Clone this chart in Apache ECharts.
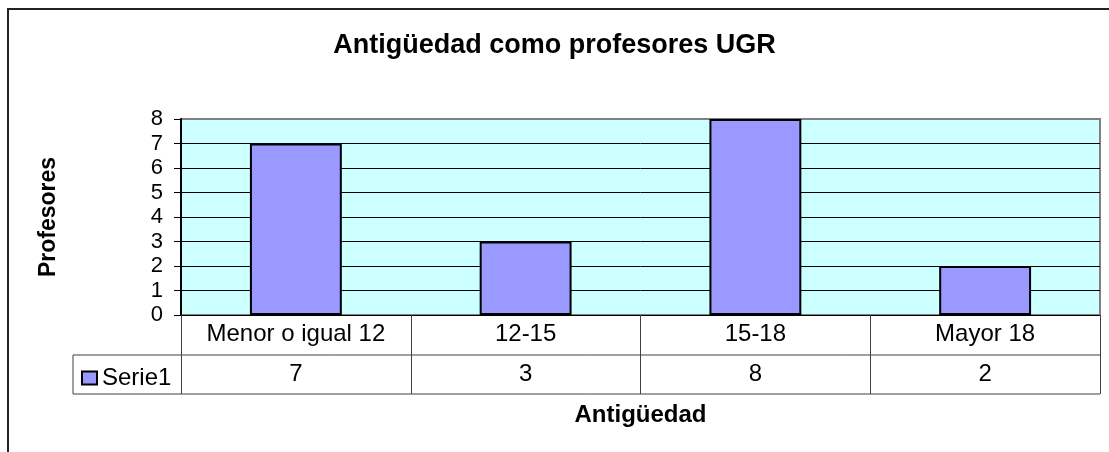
<!DOCTYPE html>
<html>
<head>
<meta charset="utf-8">
<script src="https://cdn.jsdelivr.net/npm/echarts@6/dist/echarts.min.js"></script>
<style>
  html, body { margin: 0; padding: 0; background: #fff; }
  #chart { width: 1109px; height: 452px; }
</style>
</head>
<body>
<div id="chart"></div>
<script>
const categories = ["Menor o igual 12", "12-15", "15-18", "Mayor 18"];
const serie1 = [7, 3, 8, 2];
const yTicks = [0, 1, 2, 3, 4, 5, 6, 7, 8];

const font = "Liberation Sans, Arial, sans-serif";
const chart = echarts.init(document.getElementById("chart"));

// split line colours: black inside, grey on the top border
const splitColors = yTicks.map((v, i) => (i === yTicks.length - 1 ? "#808080" : "#000"));

chart.setOption({
  animation: false,
  backgroundColor: "#fff",
  textStyle: { fontFamily: font },
  title: {
    text: "Antigüedad como profesores UGR",
    left: "center",
    top: 27,
    textStyle: { fontSize: 27, fontWeight: "bold", color: "#000", fontFamily: font }
  },
  legend: {
    data: ["Serie1"],
    left: 76,
    top: 361,
    itemWidth: 15,
    itemHeight: 13,
    itemGap: 6,
    icon: "rect",
    textStyle: { fontSize: 24, color: "#000", fontFamily: font }
  },
  grid: {
    left: 181,
    top: 119,
    right: 9,
    bottom: 137,
    show: true,
    backgroundColor: "#ccffff",
    borderColor: "#808080",
    borderWidth: 2
  },
  xAxis: [
    {
      type: "category",
      data: categories,
      position: "bottom",
      axisLine: { show: true, lineStyle: { color: "#000", width: 1 } },
      axisTick: { show: true, interval: 0, alignWithLabel: false, length: 79, lineStyle: { color: "#404040", width: 1 } },
      axisLabel: { interval: 0, fontSize: 24, color: "#000", margin: 7, fontFamily: font },
      name: "Antigüedad",
      nameLocation: "middle",
      nameGap: 88,
      nameTextStyle: { fontSize: 24, fontWeight: "bold", color: "#000", fontFamily: font }
    },
    {
      type: "category",
      data: serie1.map(String),
      position: "bottom",
      offset: 40,
      axisLine: { show: false },
      axisTick: { show: false },
      axisLabel: { interval: 0, fontSize: 24, color: "#000", margin: 7, fontFamily: font }
    }
  ],
  yAxis: {
    type: "value",
    min: 0,
    max: 8,
    interval: 1,
    axisLine: { show: true, lineStyle: { color: "#000", width: 2 } },
    axisTick: { show: true, length: 7, lineStyle: { color: "#000" } },
    axisLabel: { fontSize: 22, color: "#000", margin: 18, fontFamily: font },
    splitLine: { show: true, lineStyle: { color: splitColors, width: 1 } },
    name: "Profesores",
    nameLocation: "middle",
    nameRotate: 90,
    nameGap: 121,
    nameTextStyle: { fontSize: 23, fontWeight: "bold", color: "#000", fontFamily: font }
  },
  series: [
    {
      name: "Serie1",
      type: "bar",
      data: serie1,
      barWidth: "40%",
      itemStyle: { color: "#9999ff", borderColor: "#000", borderWidth: 2 }
    }
  ],
  graphic: [
    // outer chart frame
    { type: "rect", shape: { x: 8, y: 9, width: 1200, height: 600 }, style: { fill: null, stroke: "#222", lineWidth: 2 }, silent: true },
    // data table lines
    { type: "line", shape: { x1: 73, y1: 355, x2: 1100, y2: 355 }, style: { stroke: "#404040", lineWidth: 1 } },
    { type: "line", shape: { x1: 73, y1: 394, x2: 1100, y2: 394 }, style: { stroke: "#404040", lineWidth: 1 } },
    { type: "line", shape: { x1: 73, y1: 355, x2: 73, y2: 394 }, style: { stroke: "#404040", lineWidth: 1 } }
  ]
});
</script>
</body>
</html>
